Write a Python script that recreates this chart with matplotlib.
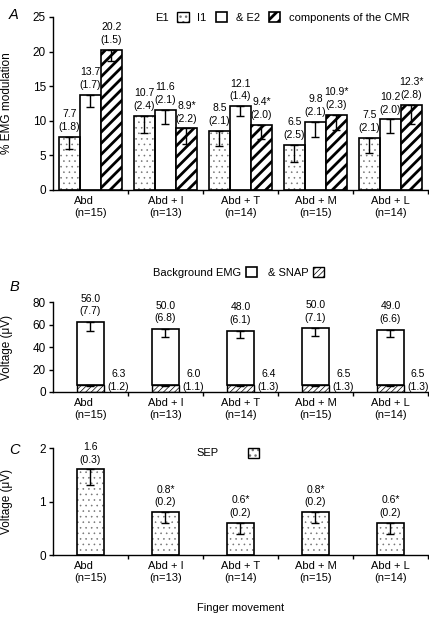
import matplotlib
matplotlib.use('Agg')
import matplotlib.pyplot as plt
from matplotlib.patches import Rectangle
import numpy as np

plt.rcParams['font.family'] = ['Liberation Sans', 'DejaVu Sans']
plt.rcParams['font.size'] = 8

groups = ['Abd', 'Abd + I', 'Abd + T', 'Abd + M', 'Abd + L']
n_subj = [15, 13, 14, 15, 14]

# A: components of the CMR (% EMG modulation), mean and SD
e1 = [7.7, 10.7, 8.5, 6.5, 7.5]
e1_sd = [1.8, 2.4, 2.1, 2.5, 2.1]
i1 = [13.7, 11.6, 12.1, 9.8, 10.2]
i1_sd = [1.7, 2.1, 1.4, 2.1, 2.0]
e2 = [20.2, 8.9, 9.4, 10.9, 12.3]
e2_sd = [1.5, 2.2, 2.0, 2.3, 2.8]
e2_sig = [False, True, True, True, True]

# B: background EMG & SNAP (uV)
emg = [56.0, 50.0, 48.0, 50.0, 49.0]
emg_sd = [7.7, 6.8, 6.1, 7.1, 6.6]
snap = [6.3, 6.0, 6.4, 6.5, 6.5]
snap_sd = [1.2, 1.1, 1.3, 1.3, 1.3]

# C: SEP (uV)
sep = [1.6, 0.8, 0.6, 0.8, 0.6]
sep_sd = [0.3, 0.2, 0.2, 0.2, 0.2]
sep_sig = [False, True, True, True, True]

x = np.arange(len(groups))
DOT = '0.45'


def hatch_lw(bars, lw):
    for b in bars:
        if hasattr(b, 'set_hatch_linewidth'):
            b.set_hatch_linewidth(lw)


def dotted_bars(ax, xs, h, w):
    # grey dots inside, black outline drawn on top
    fill = ax.bar(xs, h, w, color='white', edgecolor=DOT, linewidth=0, hatch='...', zorder=2)
    hatch_lw(fill, 0.4)
    ax.bar(xs, h, w, fill=False, edgecolor='k', linewidth=1.2, zorder=3)
    return fill


def dot_handle():
    f = Rectangle((0, 0), 1, 1, facecolor='white', edgecolor=DOT, linewidth=0, hatch='...')
    hatch_lw([f], 0.4)
    o = Rectangle((0, 0), 1, 1, fill=False, edgecolor='k', linewidth=1.0)
    return (f, o)


def down_err(ax, xs, tops, sd):
    ax.errorbar(xs, tops, yerr=[sd, np.zeros(len(sd))], fmt='none', ecolor='k',
                elinewidth=1.0, capsize=3, capthick=1.0, zorder=4)


def value_labels(ax, xs, tops, vals, sds, sig=None, dx=0.0, dy=3.5, va_y=None):
    for k in range(len(xs)):
        star = '*' if sig is not None and sig[k] else ''
        y = tops[k] if va_y is None else va_y
        ax.annotate(f'{vals[k]:.1f}{star}\n({sds[k]:.1f})', (xs[k] + dx, y),
                    xytext=(0, dy), textcoords='offset points', ha='center',
                    va='bottom', fontsize=7.5, linespacing=1.35)


def setup(ax, ymax, yticks):
    ax.set_xlim(-0.5, 4.5)
    ax.set_ylim(0, ymax)
    ax.set_yticks(yticks)
    ax.spines[['top', 'right']].set_visible(False)
    for s in ax.spines.values():
        s.set_linewidth(1.0)
    ax.set_xticks(x)
    ax.set_xticklabels([f'{g}\n(n={n})' for g, n in zip(groups, n_subj)], linespacing=1.2)
    ax.get_xticklabels()[0].set_multialignment('left')
    ax.set_xticks(x + 0.5, minor=True)
    ax.tick_params(axis='x', which='major', length=0, pad=4.5, labelsize=8)
    ax.tick_params(axis='x', which='minor', length=3, width=1.0)
    ax.tick_params(axis='y', length=3, width=1.0, labelsize=8.5, pad=2)


fig = plt.figure(figsize=(4.29, 6.18), dpi=100)
axA = fig.add_axes([0.1235, 0.6926, 0.874, 0.280])
axB = fig.add_axes([0.1235, 0.3657, 0.874, 0.1456])
axC = fig.add_axes([0.1235, 0.1019, 0.874, 0.1731])

# ---- panel A
w = 0.28
bE1 = dotted_bars(axA, x - w, e1, w)
bI1 = axA.bar(x, i1, w, color='white', edgecolor='k', linewidth=1.2, zorder=2)
bE2 = axA.bar(x + w, e2, w, color='white', edgecolor='k', linewidth=1.2, hatch='///', zorder=2)
hatch_lw(bE2, 2.0)
down_err(axA, x - w, e1, e1_sd)
down_err(axA, x, i1, i1_sd)
down_err(axA, x + w, e2, e2_sd)
value_labels(axA, x - w, e1, e1, e1_sd)
value_labels(axA, x, i1, i1, i1_sd)
value_labels(axA, x + w, e2, e2, e2_sd, sig=e2_sig)
setup(axA, 25, [0, 5, 10, 15, 20, 25])
axA.set_ylabel('% EMG modulation', fontsize=8.5)
axA.yaxis.set_label_coords(-0.107, 0.5)

blank = Rectangle((0, 0), 1, 1, visible=False)
legA = axA.legend([dot_handle(), bI1[0], bE2[0], blank],
                  ['E1', 'I1', '& E2', 'components of the CMR'],
                  ncol=4, markerfirst=False, frameon=False, loc='center left',
                  bbox_to_anchor=(0.272, 0.995), borderaxespad=0, borderpad=0,
                  handlelength=1.0, handleheight=1.0, handletextpad=0.8,
                  columnspacing=0.8, fontsize=8)
for p in legA.get_patches():
    if p.get_hatch() == '///':
        hatch_lw([p], 2.0)

# ---- panel B
wb = 0.37
bSN = axB.bar(x, snap, wb, color='white', edgecolor='k', linewidth=1.0, hatch='//////', zorder=2)
bEM = axB.bar(x, emg, wb, bottom=snap, color='white', edgecolor='k', linewidth=1.2, zorder=2)
hatch_lw(bSN, 0.5)
tot = np.array(emg) + np.array(snap)
down_err(axB, x, tot, emg_sd)
down_err(axB, x, snap, snap_sd)
value_labels(axB, x, tot, emg, emg_sd, dy=4)
value_labels(axB, x, snap, snap, snap_sd, dx=0.37, dy=0, va_y=0)
setup(axB, 80, [0, 20, 40, 60, 80])
axB.set_ylabel('Voltage (\u03bcV)', fontsize=8.5)
axB.yaxis.set_label_coords(-0.107, 0.5)
legB = axB.legend([bEM[0], bSN[0]], ['Background EMG', '& SNAP'],
                  ncol=2, markerfirst=False, frameon=False, loc='center left',
                  bbox_to_anchor=(0.268, 1.33), borderaxespad=0, borderpad=0,
                  handlelength=1.0, handleheight=1.0, handletextpad=0.4,
                  columnspacing=1.0, fontsize=8)
hatch_lw(legB.get_patches()[1:2], 0.5)

# ---- panel C
bSE = dotted_bars(axC, x, sep, wb)
down_err(axC, x, sep, sep_sd)
value_labels(axC, x, sep, sep, sep_sd, sig=sep_sig)
setup(axC, 2, [0, 1, 2])
axC.set_ylabel('Voltage (\u03bcV)', fontsize=8.5)
axC.yaxis.set_label_coords(-0.107, 0.5)
legC = axC.legend([dot_handle()], ['SEP'], markerfirst=False, frameon=False,
                  loc='center left', bbox_to_anchor=(0.384, 0.953),
                  borderaxespad=0, borderpad=0, handlelength=1.0,
                  handleheight=1.0, handletextpad=2.6, fontsize=8)

fig.text(241 / 429, 1 - 608 / 618, 'Finger movement', ha='center', va='center', fontsize=8)
for lab, yy in [('A', 15), ('B', 287), ('C', 450)]:
    fig.text(14 / 429, 1 - yy / 618, lab, ha='center', va='center',
             fontsize=10.5, style='italic')

fig.savefig('out.png', dpi=100)
plt.close(fig)
